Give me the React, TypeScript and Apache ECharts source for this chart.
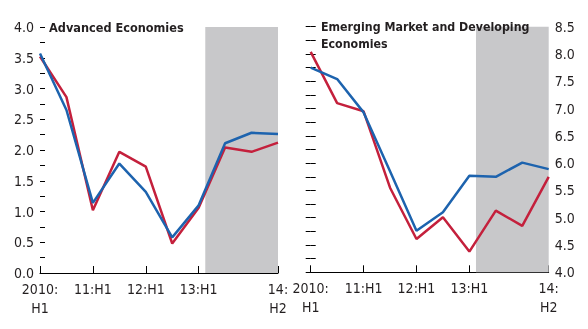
import React, { useEffect, useRef } from "react";
import * as echarts from "echarts";

const xLabels: Record<number, string> = {
  0: "2010:\nH1",
  2: "11:H1",
  4: "12:H1",
  6: "13:H1",
  8: "",
  9: "14:\nH2",
};
const periods = [0, 1, 2, 3, 4, 5, 6, 7, 8, 9]; // 2010:H1 ... 2014:H2
const advRed = [3.52, 2.86, 1.02, 1.97, 1.73, 0.48, 1.06, 2.04, 1.97, 2.12];
const advBlue = [3.57, 2.65, 1.14, 1.78, 1.32, 0.58, 1.1, 2.11, 2.28, 2.26];
const emRed = [8.04, 7.1, 6.95, 5.55, 4.61, 5.01, 4.38, 5.13, 4.85, 5.75];
const emBlue = [7.75, 7.54, 6.93, 5.85, 4.76, 5.1, 5.77, 5.75, 6.01, 5.89];
const shadeStart = 6.25;
const shadeEnd = 9;

const RED = "#c4203c";
const BLUE = "#1d63ae";
const TXT = "#231f20";
const FONT = "'Liberation Sans Narrow', 'Arial Narrow', 'DejaVu Sans Condensed', sans-serif";

const pairs = (v: number[]) => periods.map((p, i) => [p, v[i]]);

export default function App() {
  const ref = useRef<HTMLDivElement>(null);
  useEffect(() => {
    document.body.style.margin = "0";
    const chart = echarts.init(ref.current!, null, { renderer: "svg" });
    const xAxisBase = (gridIndex: number) => ({
      type: "value",
      gridIndex,
      min: 0,
      max: 9,
      interval: 2,
      splitLine: { show: false },
      axisLine: { show: true, lineStyle: { color: "#000", width: 1 } },
      axisTick: { show: true, inside: true, length: 7, lineStyle: { color: "#000" } },
      axisLabel: {
        show: true,
        showMaxLabel: true,
        showMinLabel: true,
        margin: 6,
        color: TXT,
        fontFamily: FONT,
        fontSize: 14,
        lineHeight: 19,
        formatter: (v: number) => xLabels[Math.round(v)] ?? "",
      },
    });
    const yAxisBase = (
      gridIndex: number,
      position: string,
      min: number,
      max: number,
      labels: boolean
    ) => ({
      type: "value",
      gridIndex,
      position,
      min,
      max,
      interval: 0.25,
      splitLine: { show: false },
      axisLine: { show: false },
      axisTick: { show: true, inside: true, length: 5, lineStyle: { color: "#000" } },
      axisLabel: {
        show: labels,
        showMaxLabel: true,
        showMinLabel: true,
        margin: 6,
        color: TXT,
        fontFamily: FONT,
        fontSize: 14,
        formatter: (v: number) =>
          Math.abs(v * 2 - Math.round(v * 2)) < 1e-6 ? v.toFixed(1) : "",
      },
    });
    const line = (
      name: string,
      data: number[],
      color: string,
      xi: number,
      yi: number,
      z: number
    ) => ({
      name,
      type: "line",
      xAxisIndex: xi,
      yAxisIndex: yi,
      data: pairs(data),
      symbol: "none",
      z,
      lineStyle: { color, width: 2.5 },
      itemStyle: { color },
    });
    const shade = (xi: number, yi: number) => ({
      type: "line",
      xAxisIndex: xi,
      yAxisIndex: yi,
      data: [],
      z: 1,
      silent: true,
      markArea: {
        silent: true,
        itemStyle: { color: "#c8c8ca" },
        data: [[{ xAxis: shadeStart }, { xAxis: shadeEnd }]],
      },
    });
    chart.setOption({
      animation: false,
      title: [
        {
          text: "Advanced Economies",
          left: 49,
          top: 19,
          padding: 0,
          textStyle: { fontFamily: FONT, fontSize: 12.6, fontWeight: "bold", color: TXT, lineHeight: 16.5 },
        },
        {
          text: "Emerging Market and Developing\nEconomies",
          left: 321,
          top: 19,
          padding: 0,
          textStyle: {
            fontFamily: FONT,
            fontSize: 12.3,
            fontWeight: "bold",
            color: TXT,
            lineHeight: 16.5,
          },
        },
      ],
      grid: [
        { left: 40, top: 27, width: 238, height: 246 },
        { left: 310.7, top: 26.7, width: 238, height: 245.6 },
      ],
      xAxis: [xAxisBase(0), xAxisBase(1)],
      yAxis: [
        yAxisBase(0, "left", 0, 4, true),
        yAxisBase(0, "right", 0, 4, false),
        yAxisBase(1, "right", 4, 8.5, true),
        yAxisBase(1, "left", 4, 8.5, false),
      ],
      series: [
        shade(0, 0),
        line("Adv red", advRed, RED, 0, 0, 3),
        line("Adv blue", advBlue, BLUE, 0, 0, 4),
        shade(1, 2),
        line("EM red", emRed, RED, 1, 2, 3),
        line("EM blue", emBlue, BLUE, 1, 2, 4),
      ],
    });
    return () => chart.dispose();
  }, []);
  return (
    <div
      ref={ref}
      style={{ position: "fixed", left: 0, top: 0, width: 588, height: 329 }}
    />
  );
}
